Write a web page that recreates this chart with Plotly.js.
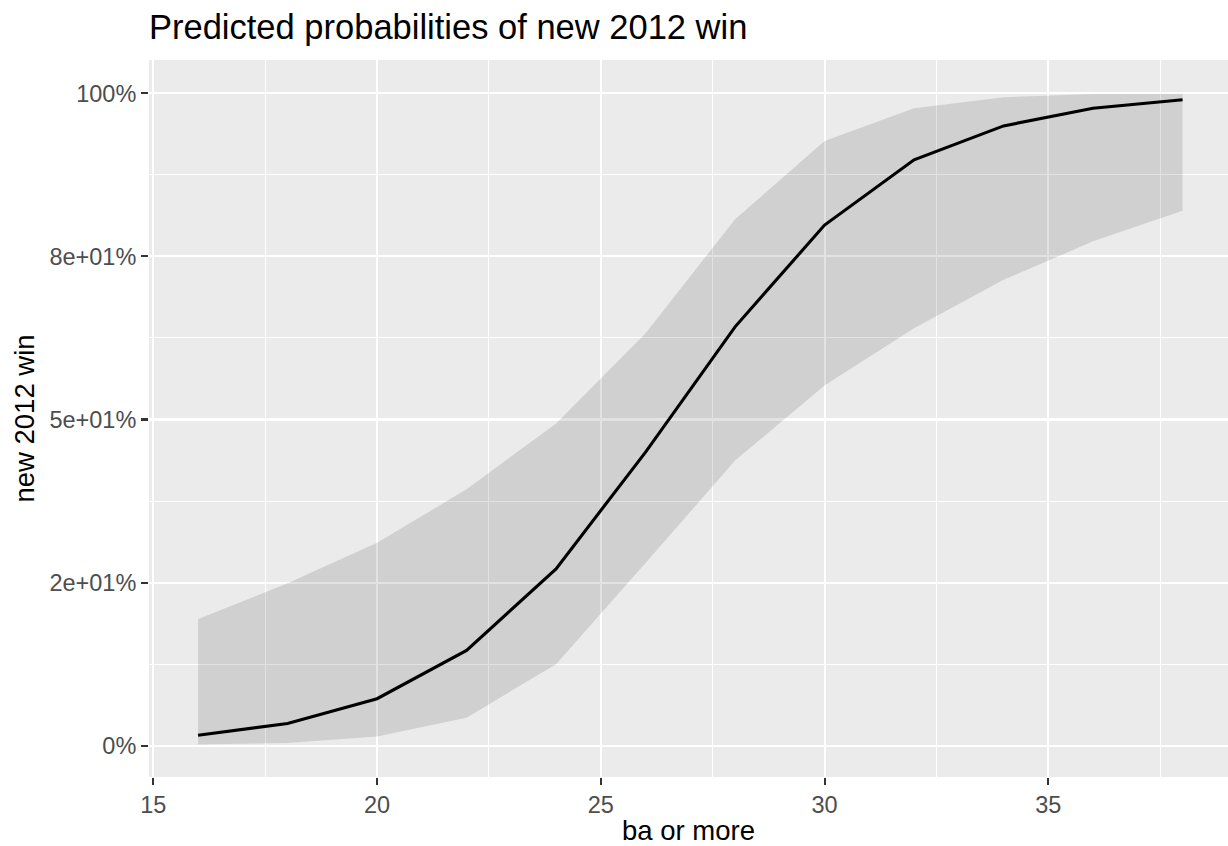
<!DOCTYPE html>
<html>
<head>
<meta charset="utf-8">
<script src="https://cdn.plot.ly/plotly-3.0.1.min.js"></script>
<style>
  html, body { margin: 0; padding: 0; background: #ffffff; }
  #chart { width: 1228px; height: 846px; }
</style>
</head>
<body>
<div id="chart"></div>
<script>
// Share of bachelor's degree holders (x) and predicted probability of a new 2012 win
var baOrMore = [16, 18, 20, 22, 24, 26, 28, 30, 32, 34, 36, 38];
var predicted = [0.016, 0.034, 0.072, 0.146, 0.271, 0.450, 0.642, 0.798, 0.898, 0.950, 0.977, 0.990];
var ciLow = [0.002, 0.004, 0.014, 0.043, 0.125, 0.280, 0.437, 0.552, 0.640, 0.714, 0.773, 0.820];
var ciHigh = [0.194, 0.249, 0.311, 0.393, 0.494, 0.632, 0.807, 0.927, 0.977, 0.994, 0.999, 0.999];

var xTickVals = [15, 20, 25, 30, 35];
var xMinorVals = [17.5, 22.5, 27.5, 32.5, 37.5];
var yTickVals = [0, 0.25, 0.5, 0.75, 1];
var yTickText = ['0%', '2e+01%', '5e+01%', '8e+01%', '100%'];
var yMinorVals = [0.125, 0.375, 0.625, 0.875];

var FONT = 'Liberation Sans, Arial, Helvetica, sans-serif';

var traces = [
  {
    x: baOrMore, y: ciLow, type: 'scatter', mode: 'lines',
    line: { width: 0, color: 'rgba(0,0,0,0)' },
    hoverinfo: 'skip', showlegend: false
  },
  {
    x: baOrMore, y: ciHigh, type: 'scatter', mode: 'lines',
    line: { width: 0, color: 'rgba(0,0,0,0)' },
    fill: 'tonexty', fillcolor: 'rgba(0,0,0,0.115)',
    hoverinfo: 'skip', showlegend: false
  },
  {
    x: baOrMore, y: predicted, type: 'scatter', mode: 'lines',
    line: { width: 3.1, color: '#000000' },
    showlegend: false
  }
];

var axisCommon = {
  showline: false,
  zeroline: false,
  showgrid: true,
  gridcolor: '#ffffff',
  gridwidth: 2.1,
  ticks: 'outside',
  ticklen: 7,
  tickwidth: 2.1,
  tickcolor: '#333333',
  tickfont: { family: FONT, size: 23.5, color: '#4D4D4D' },
  fixedrange: true
};

var layout = {
  width: 1228,
  height: 846,
  margin: { l: 149, r: 0, t: 60, b: 69 },
  paper_bgcolor: '#ffffff',
  plot_bgcolor: '#EBEBEB',
  title: {
    text: 'Predicted probabilities of new 2012 win',
    font: { family: FONT, size: 34.5, color: '#000000' },
    x: 149 / 1228, xref: 'container', xanchor: 'left',
    y: 1 - 27 / 846, yref: 'container', yanchor: 'middle'
  },
  xaxis: Object.assign({}, axisCommon, {
    range: [14.904, 39.015],
    tickmode: 'array',
    tickvals: xTickVals,
    ticktext: xTickVals.map(String),
    minor: { tickmode: 'array', tickvals: xMinorVals, showgrid: true, gridcolor: '#ffffff', gridwidth: 1.05, ticks: '' },
    title: { text: 'ba or more', font: { family: FONT, size: 27.5, color: '#000000' }, standoff: 5 }
  }),
  yaxis: Object.assign({}, axisCommon, {
    range: [-0.048, 1.051],
    tickmode: 'array',
    tickvals: yTickVals,
    ticktext: yTickText,
    minor: { tickmode: 'array', tickvals: yMinorVals, showgrid: true, gridcolor: '#ffffff', gridwidth: 1.05, ticks: '' },
    title: { text: 'new 2012 win', font: { family: FONT, size: 27.5, color: '#000000' }, standoff: 6 }
  })
};

Plotly.newPlot('chart', traces, layout, { displayModeBar: false, staticPlot: true });
</script>
</body>
</html>
